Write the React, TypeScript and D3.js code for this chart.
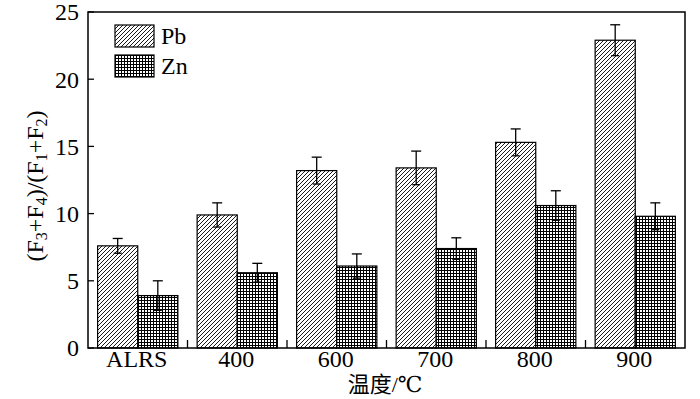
import React from 'react';
import * as d3 from 'd3';

const categories = ['ALRS', '400', '600', '700', '800', '900'];
const pbValues = [7.6, 9.9, 13.2, 13.4, 15.3, 22.9];
const pbErrors = [0.55, 0.9, 1.0, 1.25, 1.0, 1.15];
const znValues = [3.9, 5.6, 6.1, 7.4, 10.6, 9.8];
const znErrors = [1.1, 0.7, 0.9, 0.8, 1.1, 1.0];
const yTicks = [0, 5, 10, 15, 20, 25];
const seriesNames = ['Pb', 'Zn'];

const W = 700, H = 399;
const left = 88, right = 685, top = 12, bottom = 348;
const font = 'Liberation Serif, DejaVu Serif, serif';
const cjk = 'Noto Sans CJK SC, sans-serif';

export default function App() {
  const x = d3.scaleBand<string>().domain(categories).range([left, right]).padding(0);
  const inner = d3.scaleBand<string>().domain(seriesNames).range([0, x.bandwidth()])
    .paddingInner(0).paddingOuter(0.24);
  const y = d3.scaleLinear().domain([0, 25]).range([bottom, top]);

  const series = [
    { name: 'Pb', values: pbValues, errors: pbErrors, fill: 'url(#hatch)' },
    { name: 'Zn', values: znValues, errors: znErrors, fill: 'url(#grid)' },
  ];

  return (
    <svg width={W} height={H} style={{ position: 'absolute', left: 0, top: 0, background: '#fff' }}>
      <defs>
        <pattern id="hatch" patternUnits="userSpaceOnUse" width={4} height={4}>
          <rect width={4} height={4} fill="#fff" />
          <path d="M-1,1 l2,-2 M0,4 l4,-4 M3,5 l2,-2" stroke="#000" strokeWidth={0.9} />
        </pattern>
        <pattern id="grid" patternUnits="userSpaceOnUse" width={3} height={3}>
          <rect width={3} height={3} fill="#fff" />
          <path d="M0,0.5 H3 M0.5,0 V3" stroke="#000" strokeWidth={1} />
        </pattern>
      </defs>

      {/* bars */}
      {series.map(s => (
        <g key={s.name}>
          {categories.map((c, i) => {
            const bx = (x(c) ?? 0) + (inner(s.name) ?? 0);
            const bw = inner.bandwidth();
            const v = s.values[i];
            const e = s.errors[i];
            const cx = bx + bw / 2;
            return (
              <g key={c}>
                <rect x={bx} y={y(v)} width={bw} height={bottom - y(v)} fill={s.fill}
                  stroke="#000" strokeWidth={1.2} />
                <line x1={cx} x2={cx} y1={y(v - e)} y2={y(v + e)} stroke="#000" strokeWidth={1.3} />
                <line x1={cx - 5} x2={cx + 5} y1={y(v + e)} y2={y(v + e)} stroke="#000" strokeWidth={1.3} />
                <line x1={cx - 4} x2={cx + 4} y1={y(v - e)} y2={y(v - e)} stroke="#000" strokeWidth={1.3} />
              </g>
            );
          })}
        </g>
      ))}

      {/* frame */}
      <rect x={left} y={top} width={right - left} height={bottom - top} fill="none" stroke="#000" strokeWidth={1.5} />

      {/* y ticks */}
      {yTicks.map(t => (
        <g key={t}>
          <line x1={left} x2={left + 6} y1={y(t)} y2={y(t)} stroke="#000" strokeWidth={1.3} />
          <text x={79} y={y(t)} dy="0.35em" textAnchor="end" fontFamily={font} fontSize={24}>{t}</text>
        </g>
      ))}

      {/* x ticks */}
      {categories.slice(1).map(c => (
        <line key={c} x1={x(c)} x2={x(c)} y1={bottom} y2={bottom - 8} stroke="#000" strokeWidth={1.3} />
      ))}
      {categories.map(c => (
        <text key={c} x={(x(c) ?? 0) + x.bandwidth() / 2 - 1} y={367} textAnchor="middle"
          fontFamily={font} fontSize={24}>{c}</text>
      ))}

      {/* axis titles */}
      <text x={385} y={392} textAnchor="middle" fontFamily={font} fontSize={22}>
        <tspan fontFamily={cjk}>温度</tspan>/℃
      </text>
      <text transform={`translate(43,186) rotate(-90)`} textAnchor="middle"
        fontFamily={font} fontSize={24}>
        (F<tspan fontSize={16} dy={4}>3</tspan><tspan dy={-4}>+F</tspan><tspan fontSize={16} dy={4}>4</tspan>
        <tspan dy={-4}>)/(F</tspan><tspan fontSize={16} dy={4}>1</tspan><tspan dy={-4}>+F</tspan>
        <tspan fontSize={16} dy={4}>2</tspan><tspan dy={-4}>)</tspan>
      </text>

      {/* legend */}
      {seriesNames.map((n, i) => (
        <g key={n} transform={`translate(115,${25 + i * 30})`}>
          <rect width={39} height={22} fill={series[i].fill} stroke="#000" strokeWidth={1.2} />
          <text x={46} y={11} dy="0.35em" fontFamily={font} fontSize={24}>{n}</text>
        </g>
      ))}
    </svg>
  );
}
